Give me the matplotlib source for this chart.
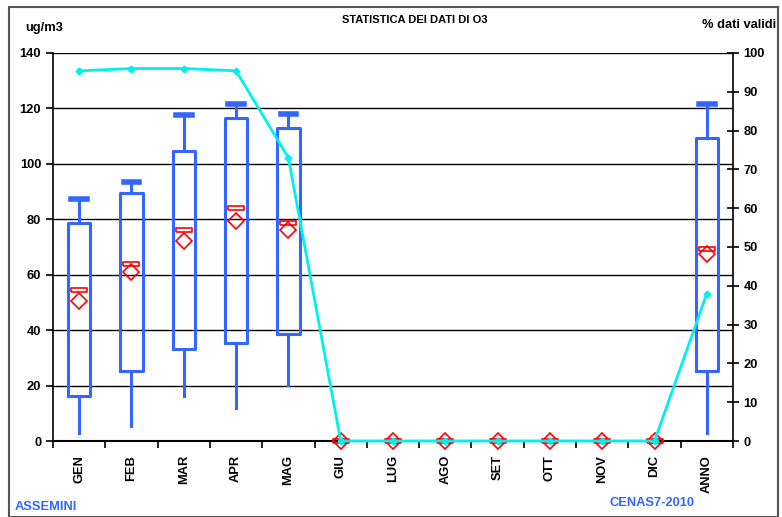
import matplotlib
matplotlib.use("Agg")
import matplotlib.pyplot as plt
import matplotlib.patches as mpatches
import numpy as np

plt.rcParams["font.family"] = ["Liberation Sans", "DejaVu Sans"]
plt.rcParams["font.weight"] = "bold"

# Data
months = ["GEN", "FEB", "MAR", "APR", "MAG", "GIU", "LUG", "AGO", "SET", "OTT", "NOV", "DIC", "ANNO"]
whis_lo = [3.0, 5.4, 16.2, 12.0, 20.3, 0, 0, 0, 0, 0, 0, 0, 2.8]
q1 = [16.2, 25.4, 33.1, 35.3, 38.7, 0, 0, 0, 0, 0, 0, 0, 25.4]
median = [54.4, 64.0, 76.0, 84.2, 78.7, 0, 0, 0, 0, 0, 0, 0, 69.2]
q3 = [78.6, 89.4, 104.5, 116.4, 112.8, 0, 0, 0, 0, 0, 0, 0, 109.2]
whis_hi = [87.3, 93.6, 117.5, 121.5, 118.0, 0, 0, 0, 0, 0, 0, 0, 121.5]
mean = [50.6, 61.1, 72.0, 79.5, 76.0, 0, 0, 0, 0, 0, 0, 0, 67.5]
pct_valid = [95.4, 96.0, 96.0, 95.4, 73.0, 0, 0, 0, 0, 0, 0, 0, 38.0]

blue = "#3366ff"
red = "#ff0000"
cyan = "#00f0f0"
fs = 9.3

fig = plt.figure(figsize=(7.82, 5.17), dpi=100)
ax = fig.add_axes([0.0678, 0.147, 0.8695, 0.7505])
ax2 = ax.twinx()

x = np.arange(len(months))

# boxes only for categories with data
stats = []
pos = []
for i in range(len(months)):
    if q3[i] > 0:
        stats.append(dict(med=median[i], q1=q1[i], q3=q3[i],
                          whislo=whis_lo[i], whishi=whis_hi[i], fliers=[]))
        pos.append(x[i])

bp = ax.bxp(stats, positions=pos, widths=0.43, showfliers=False,
            boxprops=dict(color=blue, linewidth=2.2),
            whiskerprops=dict(color=blue, linewidth=2.2),
            capprops=dict(color=blue, linewidth=4),
            capwidths=0.3,
            medianprops=dict(linestyle="none"),
            manage_ticks=False)
# only the upper whisker has a cap
for cap in bp["caps"][::2]:
    cap.set_visible(False)

# median as small red rectangle, mean as red diamond
rect = [(-4, -1), (4, -1), (4, 1), (-4, 1), (-4, -1)]
ax.plot(x, median, linestyle="none", marker=rect, markersize=12,
        markerfacecolor="none", markeredgecolor=red, markeredgewidth=1.2,
        clip_on=False, zorder=4)
ax.plot(x, mean, linestyle="none", marker="D", markersize=8,
        markerfacecolor="none", markeredgecolor=red, markeredgewidth=1.2,
        clip_on=False, zorder=4)

ax.set_xlim(-0.5, len(months) - 0.5)
ax.set_ylim(0, 140)
ax.set_yticks(np.arange(0, 141, 20))
ax.yaxis.grid(True, color="black", linewidth=1)
ax.set_axisbelow(True)
ax.set_xticks(x)
ax.set_xticklabels(months, rotation=90, fontsize=fs, fontweight="bold")
ax.set_xticks(np.arange(-0.5, len(months)), minor=True)
ax.tick_params(axis="x", which="major", length=0, pad=10)
ax.tick_params(axis="x", which="minor", length=5, width=1.2, direction="out")
ax.tick_params(axis="y", length=5, width=1.2, direction="out", labelsize=fs)
for s in ("top", "right"):
    ax.spines[s].set_visible(False)
ax.spines["left"].set_linewidth(1.2)
ax.spines["bottom"].set_linewidth(1.5)

# percentage of valid data
ax2.plot(x, pct_valid, color=cyan, linewidth=2, marker="D", markersize=3.5,
         clip_on=False, zorder=5)
ax2.set_ylim(0, 100)
ax2.set_yticks(np.arange(0, 101, 10))
ax2.tick_params(axis="y", length=8, width=1.2, direction="inout", labelsize=fs)
for s in ("top", "left", "bottom"):
    ax2.spines[s].set_visible(False)
ax2.spines["right"].set_linewidth(1.2)

for lab in ax.get_yticklabels() + ax2.get_yticklabels():
    lab.set_fontweight("bold")

fig.text(0.032, 0.945, "ug/m3", fontsize=fs, fontweight="bold", va="center")
fig.text(0.53, 0.962, "STATISTICA DEI DATI DI O3", fontsize=8, fontweight="bold",
         ha="center", va="center")
fig.text(0.993, 0.952, "% dati validi", fontsize=fs, fontweight="bold",
         ha="right", va="center")
fig.text(0.019, 0.02, "ASSEMINI", fontsize=fs, fontweight="bold", color=blue, va="center")
fig.text(0.78, 0.027, "CENAS7-2010", fontsize=fs, fontweight="bold", color=blue, va="center")

fig.patches.append(mpatches.Rectangle((0.011, 0.0), 0.984, 0.986, transform=fig.transFigure,
                                      fill=False, edgecolor="#555555", linewidth=1.5))

fig.savefig("out.png", dpi=100)
